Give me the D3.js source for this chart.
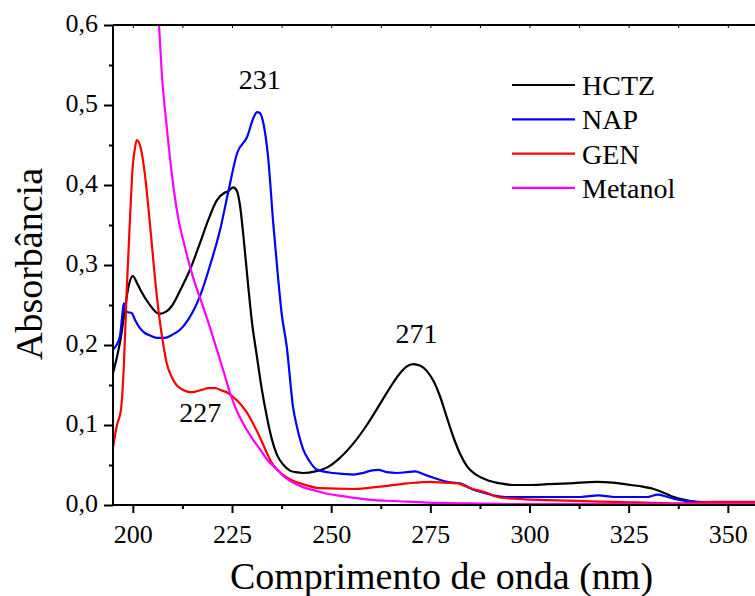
<!DOCTYPE html>
<html>
<head>
<meta charset="utf-8">
<script src="https://cdn.jsdelivr.net/npm/d3@7"></script>
<style>
  body { margin: 0; background: #fff; }
  svg { display: block; }
  svg text { font-family: "Liberation Serif", "Times New Roman", serif; fill: #000; }
</style>
</head>
<body>
<svg id="chart" width="755" height="596"></svg>
<script>
// spectra (wavelength in nm, absorbance)
const hctzWl = [195, 196, 197, 198, 199, 200, 201, 202, 204, 206.6, 208.5, 210, 212, 214.4, 216.9, 219, 221.2, 223, 224, 225.3, 226.2, 227, 228, 229.1, 230, 231.3, 232.5, 233.8, 235, 236.4, 238, 239.6, 241, 243, 246, 249, 252, 255.6, 259, 262.4, 265, 267.4, 269, 270.7, 272.5, 274.2, 276, 277.5, 279, 280.8, 282.5, 284.3, 286.5, 289.4, 292.7, 296, 300, 304.5, 310, 317, 321, 325.5, 328.5, 331.3, 334, 336.4, 338.5, 340.6, 344, 350, 357];
const hctzAbs = [0.165, 0.185, 0.21, 0.245, 0.275, 0.286, 0.278, 0.268, 0.252, 0.239, 0.242, 0.25, 0.269, 0.294, 0.327, 0.356, 0.381, 0.39, 0.392, 0.397, 0.393, 0.375, 0.33, 0.273, 0.23, 0.185, 0.145, 0.11, 0.083, 0.062, 0.05, 0.043, 0.041, 0.04, 0.042, 0.047, 0.058, 0.077, 0.1, 0.127, 0.148, 0.165, 0.173, 0.176, 0.174, 0.167, 0.153, 0.135, 0.112, 0.085, 0.064, 0.048, 0.038, 0.031, 0.027, 0.025, 0.025, 0.026, 0.027, 0.029, 0.028, 0.025, 0.023, 0.02, 0.015, 0.01, 0.007, 0.005, 0.003, 0.003, 0.003];

const napWl = [195, 196.7, 197.3, 197.7, 198.3, 198.8, 199.7, 200.5, 201.8, 203, 204.3, 206, 208, 210, 211.9, 214, 217, 219.5, 222, 224, 226.3, 228.8, 230.5, 231.3, 232, 233, 234.1, 235.4, 236.6, 237.5, 238.8, 240.4, 241.5, 243, 244.5, 246.5, 250.5, 253, 255.6, 258, 260, 261.9, 264, 266.6, 269, 271.2, 273, 275.8, 279.2, 282.5, 285.9, 288, 290.9, 294, 304.5, 312.9, 317.4, 321.2, 329.8, 332.3, 334.8, 338.1, 342.4, 350, 357];
const napAbs = [0.194, 0.21, 0.235, 0.252, 0.242, 0.241, 0.24, 0.232, 0.221, 0.215, 0.212, 0.209, 0.209, 0.213, 0.219, 0.232, 0.262, 0.3, 0.344, 0.39, 0.44, 0.46, 0.485, 0.491, 0.49, 0.475, 0.435, 0.352, 0.285, 0.24, 0.198, 0.122, 0.095, 0.069, 0.055, 0.044, 0.04, 0.039, 0.038, 0.04, 0.043, 0.044, 0.041, 0.04, 0.041, 0.042, 0.039, 0.034, 0.029, 0.027, 0.019, 0.016, 0.012, 0.01, 0.01, 0.01, 0.012, 0.01, 0.01, 0.013, 0.01, 0.006, 0.004, 0.003, 0.003];

const genWl = [195, 196, 197, 197.7, 198.5, 199.3, 200, 200.5, 201, 202, 203, 204.3, 205.8, 206.8, 207.7, 208.5, 209.8, 211, 211.9, 213.5, 214.9, 216, 217.4, 219, 220.7, 222.5, 224, 225.5, 227, 228.7, 230.3, 232, 233.8, 235, 236.4, 238.9, 240.5, 242.2, 247.2, 255.6, 262.4, 269.2, 275, 278.5, 281.8, 285.1, 289.4, 291.9, 296, 304.5, 321.2, 338, 346.5, 357];
const genAbs = [0.072, 0.1, 0.119, 0.17, 0.273, 0.36, 0.425, 0.445, 0.456, 0.446, 0.415, 0.352, 0.273, 0.23, 0.2, 0.178, 0.16, 0.15, 0.146, 0.142, 0.141, 0.142, 0.144, 0.146, 0.146, 0.143, 0.14, 0.134, 0.127, 0.116, 0.102, 0.085, 0.065, 0.053, 0.044, 0.034, 0.03, 0.027, 0.021, 0.02, 0.023, 0.027, 0.029, 0.028, 0.027, 0.021, 0.015, 0.01, 0.008, 0.006, 0.004, 0.002, 0.004, 0.004];

const metWl = [204, 205, 206, 206.6, 207.3, 208.6, 209.8, 211.4, 213, 214.4, 216, 217.7, 219.5, 221.2, 223, 224.5, 226, 227.8, 230, 232, 234, 236.4, 238.5, 240.4, 243, 246, 249, 253, 257.3, 261, 265.7, 274.2, 285, 300, 357];
const metAbs = [0.82, 0.72, 0.645, 0.6, 0.54, 0.47, 0.415, 0.36, 0.325, 0.298, 0.272, 0.248, 0.221, 0.194, 0.165, 0.14, 0.12, 0.102, 0.084, 0.07, 0.056, 0.044, 0.034, 0.028, 0.022, 0.018, 0.014, 0.011, 0.008, 0.006, 0.005, 0.003, 0.002, 0.001, 0.001];

const seriesNames = ["HCTZ", "NAP", "GEN", "Metanol"];
const seriesColors = ["#000000", "#0000ff", "#ff0000", "#ff00ff"];

const xTicks = [200, 225, 250, 275, 300, 325, 350];
const yTicks = [0, 0.1, 0.2, 0.3, 0.4, 0.5, 0.6];

const peakLabels = [
  { text: "231", wl: 232, abs: 0.52 },
  { text: "271", wl: 271.5, abs: 0.202 },
  { text: "227", wl: 217, abs: 0.104 }
];

const series = [
  { wl: hctzWl, abs: hctzAbs },
  { wl: napWl, abs: napAbs },
  { wl: genWl, abs: genAbs },
  { wl: metWl, abs: metAbs }
].map((s, i) => ({
  name: seriesNames[i],
  color: seriesColors[i],
  points: s.wl.map((w, j) => [w, s.abs[j]])
}));

const svg = d3.select("#chart");
const plotLeft = 113, plotRight = 755.6, plotTop = 25, plotBottom = 505;

const x = d3.scaleLinear().domain([195, 357]).range([plotLeft, plotRight]);
const y = d3.scaleLinear().domain([0, 0.6]).range([plotBottom, plotTop]);

const fmt = d => d.toFixed(1).replace(".", ",");

// clip for the spectra
svg.append("defs").append("clipPath").attr("id", "plotClip")
  .append("rect")
  .attr("x", plotLeft).attr("y", plotTop)
  .attr("width", plotRight - plotLeft).attr("height", plotBottom - plotTop);

const line = d3.line()
  .x(d => x(d[0]))
  .y(d => y(d[1]))
  .curve(d3.curveMonotoneX);

svg.append("g")
  .attr("clip-path", "url(#plotClip)")
  .selectAll("path")
  .data(series)
  .enter().append("path")
  .attr("d", d => line(d.points))
  .attr("fill", "none")
  .attr("stroke", d => d.color)
  .attr("stroke-width", 2.2)
  .attr("stroke-linejoin", "round");

// minor ticks
const xMinor = d3.range(187.5, 357, 12.5).filter(v => v > 195 && xTicks.indexOf(v) < 0);
const yMinor = [0.05, 0.15, 0.25, 0.35, 0.45, 0.55];

svg.append("g")
  .attr("transform", `translate(0,${plotBottom})`)
  .call(d3.axisBottom(x).tickValues(xMinor).tickSize(4).tickFormat("").tickSizeOuter(0))
  .call(g => g.select(".domain").remove())
  .call(g => g.selectAll("line").attr("stroke-width", 2));

svg.append("g")
  .attr("transform", `translate(${plotLeft},0)`)
  .call(d3.axisLeft(y).tickValues(yMinor).tickSize(4).tickFormat("").tickSizeOuter(0))
  .call(g => g.select(".domain").remove())
  .call(g => g.selectAll("line").attr("stroke-width", 2));

// top axis, small inward ticks
svg.append("g")
  .attr("transform", `translate(0,${plotTop})`)
  .call(d3.axisTop(x).tickValues(xTicks.concat(xMinor)).tickSize(-3).tickFormat("").tickSizeOuter(0))
  .call(g => g.select(".domain").attr("d", `M${plotLeft},0H${plotRight}`).attr("stroke-width", 2))
  .call(g => g.selectAll("line").attr("stroke-width", 1));

// main axes
svg.append("g")
  .attr("transform", `translate(0,${plotBottom})`)
  .call(d3.axisBottom(x).tickValues(xTicks).tickSize(8).tickSizeOuter(0).tickFormat(d3.format("d")))
  .call(g => g.select(".domain").attr("d", `M${plotLeft},0H${plotRight}`).attr("stroke-width", 2))
  .call(g => g.selectAll("line").attr("stroke-width", 2))
  .call(g => g.selectAll("text")
    .attr("y", 38).attr("dy", null)
    .attr("font-size", 26));

svg.append("g")
  .attr("transform", `translate(${plotLeft},0)`)
  .call(d3.axisLeft(y).tickValues(yTicks).tickSize(9).tickSizeOuter(0).tickFormat(fmt))
  .call(g => g.select(".domain").attr("d", `M0,${plotBottom}V${plotTop}`).attr("stroke-width", 2))
  .call(g => g.selectAll("line").attr("stroke-width", 2))
  .call(g => g.selectAll("text")
    .attr("x", -15).attr("dy", 6)
    .attr("font-size", 26));

// axis titles
svg.append("text")
  .attr("x", (228 + 655) / 2).attr("y", 589)
  .attr("text-anchor", "middle")
  .attr("font-size", 38)
  .text("Comprimento de onda (nm)");

svg.append("text")
  .attr("transform", "translate(42,264) rotate(-90)")
  .attr("text-anchor", "middle")
  .attr("font-size", 38)
  .text("Absorbância");

// peak annotations
svg.append("g").selectAll("text")
  .data(peakLabels)
  .enter().append("text")
  .attr("x", d => x(d.wl))
  .attr("y", d => y(d.abs))
  .attr("text-anchor", "middle")
  .attr("font-size", 28)
  .text(d => d.text);

// legend
const legend = svg.append("g").attr("transform", "translate(512,85)");
const item = legend.selectAll("g")
  .data(series)
  .enter().append("g")
  .attr("transform", (d, i) => `translate(0,${i * 34.3})`);

item.append("line")
  .attr("x1", 0).attr("x2", 63)
  .attr("stroke", d => d.color)
  .attr("stroke-width", 2.2);

item.append("text")
  .attr("x", 70).attr("y", 10)
  .attr("font-size", 28)
  .text(d => d.name);
</script>
</body>
</html>
